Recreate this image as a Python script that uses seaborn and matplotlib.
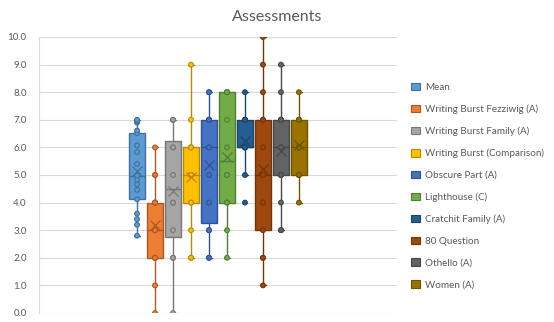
import numpy as np
import pandas as pd
import matplotlib
matplotlib.use("Agg")
import matplotlib.pyplot as plt
import matplotlib.colors as mcolors
from matplotlib.patches import Patch
import seaborn as sns

# ---- data ----
series = ["Mean", "Writing Burst Fezziwig (A)", "Writing Burst Family (A)",
          "Writing Burst (Comparison)", "Obscure Part (A)", "Lighthouse (C)",
          "Cratchit Family (A)", "80 Question", "Othello (A)", "Women (A)"]
mean_vals = [2.80, 3.20, 3.40, 3.60, 4.12, 4.46, 4.66, 4.83, 4.98, 5.40,
             5.83, 6.07, 6.51, 6.61, 6.90, 6.95, 7.00]
fezziwig = [0, 1, 2, 2, 2, 3, 3, 3, 4, 4, 4, 4, 5, 5, 6]
family = [0, 2, 2, 3, 4, 4, 5, 6, 6, 7, 7, 7]
comparison = [2, 2, 3, 4, 4, 5, 5, 5, 6, 6, 6, 7, 9]
obscure = [2, 2, 3, 3, 4, 5, 6, 6, 7, 7, 7, 7, 8, 8]
lighthouse = [2, 3, 4, 4, 5, 5, 6, 7, 8, 8, 8, 8]
cratchit = [4, 5, 6, 6, 6, 6, 6, 7, 7, 7, 7, 8]
question80 = [1, 2, 2, 3, 4, 4, 5, 6, 7, 7, 8, 9, 10]
othello = [3, 3, 4, 5, 5, 5, 6, 6, 7, 7, 7, 7, 8, 9]
women = [4, 5, 5, 5, 6, 6, 6, 6, 7, 7, 7, 7, 8]
colors = ["#5B9BD5", "#ED7D31", "#A5A5A5", "#FFC000", "#4472C4",
          "#70AD47", "#255E91", "#9E480E", "#636363", "#997300"]
yticks = [0, 1, 2, 3, 4, 5, 6, 7, 8, 9, 10]

values = [mean_vals, fezziwig, family, comparison, obscure, lighthouse,
          cratchit, question80, othello, women]
df = pd.DataFrame({
    "series": [s for s, v in zip(series, values) for _ in v],
    "value": [x for v in values for x in v],
})
pal = dict(zip(series, colors))


def dark(c, f=0.72):
    r, g, b = mcolors.to_rgb(c)
    return (r * f, g * f, b * f)


sns.set_style("white")
plt.rcParams["font.family"] = ["Lato", "DejaVu Sans"]
text_color = "#595959"

fig = plt.figure(figsize=(5.54, 3.22), dpi=100)
W, H = 554, 322
ax = fig.add_axes([39 / W, 1 - 313 / H, (397 - 39) / W, (313 - 37) / H])

sns.boxplot(data=df, x="series", y="value", hue="series", order=series,
            hue_order=series, palette=pal, width=0.92, dodge=False,
            showfliers=False, showmeans=True, legend=False, ax=ax,
            linewidth=1.0)

for cont, c in zip(ax.containers, colors):
    d = dark(c)
    for b in cont.boxes:
        b.set_edgecolor(d)
        b.set_facecolor(c)
    for ln in list(cont.medians) + list(cont.whiskers) + list(cont.caps):
        ln.set_color(d)
        ln.set_linewidth(1.0)
    for ln in cont.caps:
        x0, x1 = ln.get_xdata()
        xc = (x0 + x1) / 2
        hw = (x1 - x0) / 2 * 0.7
        ln.set_xdata([xc - hw, xc + hw])
    for ln in cont.means:
        ln.set_marker("x")
        ln.set_markersize(7)
        ln.set_markeredgecolor(d)
        ln.set_markerfacecolor(d)
        ln.set_markeredgewidth(0.9)
        ln.set_zorder(6)

n_before = len(ax.collections)
sns.stripplot(data=df, x="series", y="value", hue="series", order=series,
              hue_order=series, palette=pal, jitter=False, dodge=False,
              size=3.4, linewidth=0.8, legend=False, ax=ax)
for coll in ax.collections[n_before:]:
    fc = coll.get_facecolor()
    if len(fc):
        coll.set_edgecolor(dark(fc[0][:3]))
        coll.set_zorder(5)

ax.set_xlim(-5.45, 14.45)
ax.set_ylim(0, 10)
ax.set_yticks(yticks)
ax.set_yticklabels([f"{t:.1f}" for t in yticks], color=text_color, fontsize=7)
ax.tick_params(axis="y", length=0, pad=9)
ax.set_xticks([])
ax.set_xlabel("")
ax.set_ylabel("")
ax.grid(axis="y", color="#D9D9D9", linewidth=0.8)
ax.set_axisbelow(True)
for s in ["top", "right", "bottom"]:
    ax.spines[s].set_visible(False)
ax.spines["left"].set_color("#D9D9D9")
ax.spines["left"].set_linewidth(0.8)

handles = [Patch(facecolor=c, edgecolor=dark(c), linewidth=0.8) for c in colors]
fig.legend(handles, series, loc="center left",
           bbox_to_anchor=(411 / W, 1 - 186 / H), frameon=False,
           fontsize=7.1, labelcolor=text_color, handlelength=0.95,
           handleheight=0.8, handletextpad=0.45, labelspacing=1.27,
           borderaxespad=0, borderpad=0)

fig.text(277 / W, 1 - 21 / H, "Assessments", ha="center", va="baseline",
         fontsize=11.5, color=text_color)

fig.savefig("out.png", dpi=100)
